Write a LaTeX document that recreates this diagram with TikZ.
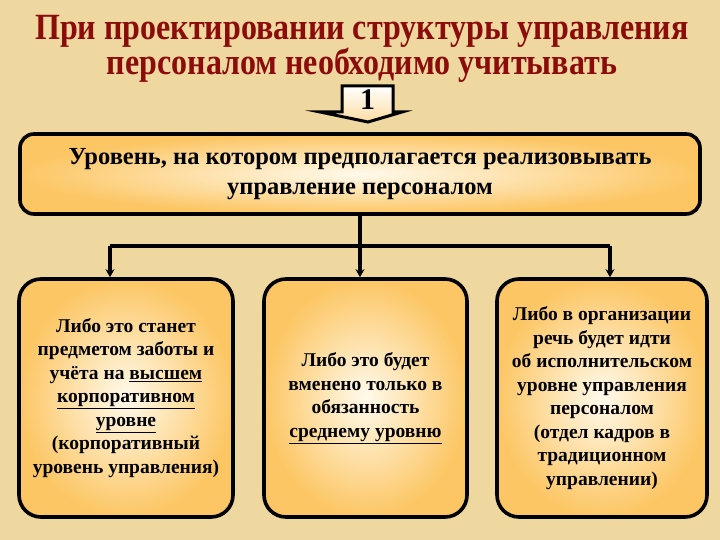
\documentclass[tikz,border=0pt]{standalone}
\usepackage{fontspec}
\setmainfont{Liberation Serif}
\usepackage{xcolor}
\usetikzlibrary{arrows.meta}
\definecolor{paper}{RGB}{238,216,160}
\definecolor{boxedge}{RGB}{252,198,100}
\definecolor{boxmid}{RGB}{255,250,236}
\definecolor{titlered}{RGB}{140,12,12}
\tikzset{
  levelbox/.style={draw=black, line width=3.6pt, rounded corners=22pt,
    inner color=boxmid, outer color=boxedge, align=center,
    font=\bfseries\fontsize{19.5}{23.5}\selectfont},
  link/.style={line width=3.4pt},
  linkarrow/.style={line width=3.4pt, -{Stealth[length=8pt,width=9pt]}}
}

\begin{document}
\begin{tikzpicture}[x=1pt,y=-1pt]
\useasboundingbox (0,0) rectangle (720,540);
\fill[paper] (0,0) rectangle (720,540);
% title
\node[text=titlered, font=\bfseries\fontsize{37}{35}\selectfont] (title) at (362,50)
  {\scalebox{0.865}[1]{\begin{tabular}{@{}c@{}}При проектировании структуры управления\\[-1pt]
   персоналом необходимо учитывать\end{tabular}}};
% badge with number
\filldraw[line width=3pt, top color=white, bottom color=boxedge!60]
  (342,86) -- (393,86) -- (393,112) -- (402,112) -- (368,122) -- (320,112)
  -- (342,112) -- cycle;
\node[font=\bfseries\fontsize{30}{30}\selectfont] (num) at (367.5,100) {1};
% top level
\node[levelbox, minimum width=680, minimum height=80, rounded corners=14pt,
  font=\bfseries\fontsize{24.5}{30}\selectfont] (top) at (360,174)
  {Уровень, на котором предполагается реализовывать\\управление персоналом};
% three variants
\node[levelbox, minimum width=214, minimum height=238] (high) at (126,398)
  {Либо это станет\\предметом заботы и\\учёта на \underline{высшем}\\
   \underline{корпоративном}\\\underline{уровне}\\(корпоративный\\уровень управления)};
\node[levelbox, minimum width=203, minimum height=238] (mid) at (365.5,398)
  {Либо это будет\\вменено только в\\обязанность\\\underline{среднему уровню}};
\node[levelbox, minimum width=210, minimum height=238] (low) at (602,398)
  {Либо в организации\\речь будет идти\\об исполнительском\\уровне управления\\
   персоналом\\(отдел кадров в\\традиционном\\управлении)};
% connectors
\coordinate (fork) at (360,246);
\coordinate (forkl) at (110,246);
\coordinate (forkr) at (610,246);
\draw[link] (top.south) -- (fork);
\draw[link] (forkl) -- (forkr);
\draw[linkarrow] (forkl) -- (forkl |- high.north);
\draw[linkarrow] (fork) -- (fork |- mid.north);
\draw[linkarrow] (forkr) -- (forkr |- low.north);
\end{tikzpicture}
\end{document}
